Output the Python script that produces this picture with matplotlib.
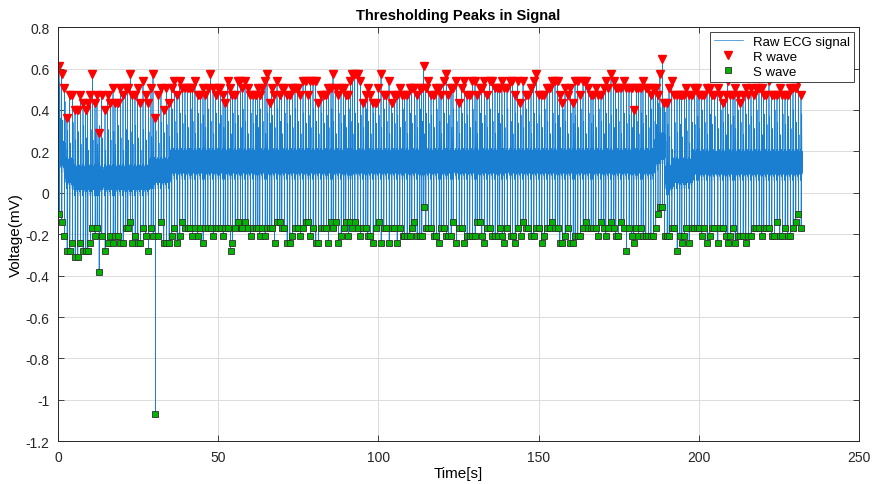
import numpy as np
import matplotlib
matplotlib.use("Agg")
import matplotlib.pyplot as plt

plt.rcParams['font.family'] = ['Liberation Sans', 'DejaVu Sans']
plt.rcParams['axes.unicode_minus'] = False

# R peak times (s)
r_time = [
    0.31, 1.14, 1.97, 2.80, 3.64, 4.47, 5.30, 6.13, 6.96, 7.80,
    8.63, 9.25, 10.08, 10.71, 11.54, 12.16, 12.79, 13.62, 14.66, 15.49,
    16.32, 17.16, 17.78, 18.61, 19.44, 20.28, 21.11, 21.73, 22.56, 23.19,
    24.02, 24.85, 25.68, 26.52, 27.35, 28.18, 29.01, 29.64, 30.35, 31.30,
    32.13, 32.96, 33.80, 34.63, 35.46, 36.29, 37.12, 37.96, 38.79, 39.62,
    40.45, 41.28, 41.91, 42.74, 43.57, 44.40, 45.24,
    45.88, 46.72, 47.55, 48.38, 49.21, 50.04, 50.67, 51.50, 52.12, 52.96,
    53.79, 54.41, 55.24, 56.08, 56.91, 57.53, 58.36, 59.20, 60.03, 60.86,
    61.69, 62.32, 62.94, 63.77, 64.60, 65.23, 66.06, 66.68, 67.52, 68.35,
    69.18, 69.80, 70.64, 71.47, 72.30, 73.13, 73.96, 74.80, 75.63, 76.46,
    77.29, 78.12, 78.75, 79.58, 80.41, 81.24, 82.08, 82.91, 83.74, 84.36,
    85.20, 85.82, 86.65, 87.48, 88.32, 89.15, 89.77, 90.60, 91.23, 91.85,
    92.60, 93.53, 94.36, 95.19, 96.03, 96.65, 97.48, 98.31, 99.15, 99.98,
    100.81, 101.64, 102.47, 103.31, 104.14, 104.97, 105.80, 106.63, 107.47, 108.09,
    108.92, 109.75, 110.38, 111.21, 112.04, 112.87, 113.50, 114.12, 114.75, 115.58,
    116.41, 117.24, 118.07, 118.91, 119.53, 120.36, 121.19, 121.82, 122.65, 123.27,
    124.31, 125.15, 125.98, 126.81, 127.64, 128.47, 129.31, 130.14, 130.76, 131.59,
    132.22, 133.05, 133.88, 134.71, 135.55, 136.38, 137.21, 137.80,
    138.55, 139.30, 140.14, 141.18, 141.80, 142.63, 143.46, 144.30, 145.13, 145.96,
    146.79, 147.62, 148.46, 149.29, 150.12, 150.95, 151.78, 152.62, 153.45, 154.28,
    155.11, 155.94, 156.57, 157.40, 158.23, 159.06, 159.90, 160.73, 161.35, 162.18,
    163.02, 163.85, 164.68, 165.51, 166.34, 166.97, 167.80, 168.63, 169.46, 170.30,
    170.92, 171.75, 172.58, 173.42, 174.04, 174.87, 175.70, 176.54, 177.37, 178.20,
    179.03, 179.66, 180.49, 181.11, 181.94, 182.57, 183.40, 184.23,
    185.00, 185.75, 186.50, 187.20, 187.85, 188.61, 189.24, 190.07, 190.69, 191.53,
    192.36, 193.19, 194.02, 194.65, 195.48, 196.10, 196.93, 197.77, 198.60, 199.43,
    200.05, 200.89, 201.72, 202.55, 203.38, 204.01, 204.84, 205.88, 206.71, 207.54,
    208.37, 209.00, 209.83, 210.66, 211.29, 212.12, 212.95, 213.78, 214.61, 215.45,
    216.28, 217.11, 217.94, 218.77, 219.61, 220.23, 221.06, 221.89, 222.73, 223.56,
    224.39, 225.22, 226.05, 226.89, 227.72, 228.55, 229.38, 230.21, 231.05, 231.88,
]

# R peak amplitudes (mV)
r_amp = [
    0.61, 0.575, 0.505, 0.36, 0.47, 0.47, 0.40, 0.40, 0.47, 0.435,
    0.40, 0.435, 0.47, 0.575, 0.435, 0.47, 0.29, 0.47, 0.40, 0.47,
    0.435, 0.505, 0.435, 0.435, 0.505, 0.47, 0.505, 0.505, 0.575, 0.47,
    0.47, 0.505, 0.435, 0.54, 0.47, 0.435, 0.505, 0.575, 0.36, 0.47,
    0.505, 0.40, 0.505, 0.435, 0.505, 0.54, 0.47, 0.54, 0.505, 0.505,
    0.505, 0.505, 0.505, 0.54, 0.47, 0.47, 0.505,
    0.47, 0.505, 0.575, 0.505, 0.47, 0.505, 0.505, 0.47, 0.435, 0.54,
    0.505, 0.47, 0.47, 0.54, 0.54, 0.505, 0.54, 0.505, 0.47, 0.47,
    0.47, 0.505, 0.47, 0.505, 0.54, 0.575, 0.435, 0.505, 0.47, 0.54,
    0.47, 0.505, 0.505, 0.47, 0.47, 0.505, 0.505, 0.505, 0.47, 0.54,
    0.54, 0.47, 0.54, 0.54, 0.54, 0.435, 0.47, 0.47, 0.47, 0.505,
    0.505, 0.575, 0.505, 0.47, 0.505, 0.505, 0.47, 0.47, 0.54, 0.575,
    0.575, 0.575, 0.54, 0.435, 0.47, 0.505, 0.47, 0.435, 0.435, 0.505,
    0.575, 0.47, 0.47, 0.54, 0.435, 0.47, 0.47, 0.505, 0.47, 0.47,
    0.47, 0.505, 0.505, 0.505, 0.47, 0.505, 0.505, 0.61, 0.505, 0.54,
    0.47, 0.47, 0.505, 0.505, 0.47, 0.54, 0.575, 0.47, 0.505, 0.505,
    0.54, 0.435, 0.505, 0.54, 0.47, 0.47, 0.54, 0.54, 0.47, 0.505,
    0.505, 0.54, 0.47, 0.54, 0.54, 0.505, 0.505, 0.505,
    0.54, 0.505, 0.505, 0.54, 0.54, 0.47, 0.54, 0.435, 0.54, 0.47,
    0.47, 0.505, 0.54, 0.575, 0.47, 0.47, 0.47, 0.505, 0.505, 0.54,
    0.54, 0.54, 0.47, 0.435, 0.505, 0.47, 0.505, 0.435, 0.54, 0.54,
    0.47, 0.54, 0.54, 0.505, 0.47, 0.47, 0.505, 0.47, 0.47, 0.505,
    0.54, 0.505, 0.575, 0.54, 0.505, 0.505, 0.505, 0.54, 0.505, 0.505,
    0.505, 0.40, 0.505, 0.505, 0.505, 0.54, 0.505, 0.505,
    0.47, 0.505, 0.505, 0.47, 0.575, 0.645, 0.435, 0.435, 0.505, 0.54,
    0.47, 0.47, 0.47, 0.47, 0.47, 0.505, 0.47, 0.47, 0.505, 0.505,
    0.47, 0.47, 0.47, 0.505, 0.505, 0.47, 0.47, 0.505, 0.47, 0.435,
    0.47, 0.54, 0.47, 0.47, 0.505, 0.47, 0.435, 0.47, 0.505, 0.47,
    0.505, 0.47, 0.505, 0.505, 0.505, 0.47, 0.47, 0.54, 0.47, 0.47,
    0.47, 0.505, 0.47, 0.47, 0.47, 0.505, 0.505, 0.505, 0.54, 0.47,
]

# S trough amplitudes (mV), one per beat
s_amp = [
    -0.10, -0.14, -0.21, -0.28, -0.28, -0.24, -0.31, -0.31, -0.24, -0.28,
    -0.28, -0.28, -0.24, -0.17, -0.21, -0.17, -0.38, -0.21, -0.28, -0.24,
    -0.21, -0.24, -0.21, -0.21, -0.24, -0.24, -0.17, -0.17, -0.14, -0.24,
    -0.21, -0.24, -0.24, -0.17, -0.21, -0.28, -0.17, -0.21, -1.07, -0.21,
    -0.14, -0.24, -0.24, -0.24, -0.21, -0.17, -0.24, -0.21, -0.14, -0.17,
    -0.17, -0.17, -0.21, -0.17, -0.21, -0.17, -0.24,
    -0.17, -0.17, -0.17, -0.21, -0.17, -0.17, -0.17, -0.21, -0.17, -0.17,
    -0.28, -0.24, -0.17, -0.14, -0.17, -0.17, -0.14, -0.17, -0.21, -0.17,
    -0.17, -0.17, -0.21, -0.17, -0.21, -0.17, -0.17, -0.17, -0.24, -0.14,
    -0.14, -0.17, -0.17, -0.24, -0.24, -0.21, -0.17, -0.17, -0.21, -0.17,
    -0.14, -0.14, -0.21, -0.17, -0.24, -0.24, -0.17, -0.17, -0.17, -0.24,
    -0.14, -0.17, -0.14, -0.24, -0.21, -0.17, -0.14, -0.21, -0.14, -0.17,
    -0.14, -0.17, -0.21, -0.17, -0.17, -0.21, -0.21, -0.24, -0.17, -0.14,
    -0.24, -0.17, -0.17, -0.24, -0.17, -0.17, -0.24, -0.17, -0.21, -0.21,
    -0.21, -0.21, -0.17, -0.14, -0.21, -0.21, -0.21, -0.07, -0.17, -0.17,
    -0.17, -0.21, -0.21, -0.24, -0.17, -0.17, -0.21, -0.21, -0.21, -0.14,
    -0.24, -0.17, -0.17, -0.24, -0.21, -0.21, -0.21, -0.21, -0.14, -0.14,
    -0.21, -0.24, -0.17, -0.17, -0.21, -0.21, -0.21, -0.17,
    -0.21, -0.24, -0.17, -0.21, -0.21, -0.24, -0.17, -0.21, -0.14, -0.17,
    -0.17, -0.21, -0.21, -0.17, -0.17, -0.24, -0.21, -0.17, -0.17, -0.14,
    -0.17, -0.17, -0.24, -0.24, -0.21, -0.17, -0.24, -0.24, -0.21, -0.21,
    -0.21, -0.17, -0.14, -0.17, -0.17, -0.17, -0.17, -0.21, -0.14, -0.17,
    -0.21, -0.17, -0.14, -0.17, -0.21, -0.21, -0.14, -0.17, -0.28, -0.17,
    -0.21, -0.24, -0.17, -0.21, -0.17, -0.21, -0.21, -0.21,
    -0.21, -0.21, -0.17, -0.10, -0.07, -0.07, -0.21, -0.21, -0.21, -0.17,
    -0.17, -0.28, -0.21, -0.24, -0.21, -0.17, -0.24, -0.17, -0.17, -0.17,
    -0.17, -0.21, -0.17, -0.24, -0.21, -0.17, -0.17, -0.24, -0.17, -0.17,
    -0.21, -0.24, -0.21, -0.17, -0.24, -0.21, -0.21, -0.21, -0.24, -0.21,
    -0.21, -0.17, -0.17, -0.17, -0.21, -0.17, -0.17, -0.17, -0.21, -0.21,
    -0.14, -0.21, -0.21, -0.17, -0.21, -0.21, -0.17, -0.14, -0.10, -0.17,
]

# baseline level of the trace, per time segment (segment start times)
base_start = [0.0, 1.0, 2.5, 5.0, 29.0, 35.0, 186.0, 187.5, 189.5, 192.0, 198.0]
base_level = [0.30, 0.18, 0.10, 0.065, 0.10, 0.145, 0.19, 0.22, 0.07, 0.10, 0.14]

# T wave height above baseline, repeating over the beats
t_height = [0.23, 0.17, 0.26, 0.20, 0.14, 0.24, 0.19]

# shape of one beat around the R peak: time offsets (s) and level offsets from baseline
pre_dt = [-0.32, -0.29, -0.26, -0.23, -0.20, -0.17, -0.14, -0.11, -0.08, -0.05]
pre_dv = [-0.05, 0.06, -0.03, 0.05, -0.06, 0.03, 0.07, -0.04, 0.02, -0.08]
s_dt = 0.04
post_dt = [0.09, 0.13, 0.17, 0.22, 0.27, 0.31, 0.35, 0.39, 0.43]
post_dv = [-0.07, 0.04, 0.10, None, 0.09, -0.05, 0.06, -0.04, 0.03]

# build the raw trace from the beats
r_time = np.array(r_time)
r_amp = np.array(r_amp)
s_amp = np.array(s_amp)
s_time = r_time + s_dt
seg = np.searchsorted(base_start, r_time, side='right') - 1
base = np.array(base_level)[seg]

sig_t = []
sig_v = []
for i in range(len(r_time)):
    t0 = r_time[i]
    b = base[i]
    for dt, dv in zip(pre_dt, pre_dv):
        if i == 0 or t0 + dt > sig_t[-1]:
            sig_t.append(t0 + dt)
            sig_v.append(b + dv)
    sig_t.append(t0)
    sig_v.append(r_amp[i])
    sig_t.append(s_time[i])
    sig_v.append(s_amp[i])
    nxt = r_time[i + 1] + pre_dt[0] if i + 1 < len(r_time) else 1e9
    for dt, dv in zip(post_dt, post_dv):
        if dv is None:
            dv = t_height[i % len(t_height)]
        if t0 + dt < nxt:
            sig_t.append(t0 + dt)
            sig_v.append(b + dv)

fig = plt.figure(figsize=(8.74, 4.85), dpi=100)
ax = fig.add_axes([0.0664, 0.088, 0.9165, 0.854])

ax.plot(sig_t, sig_v, color='#1a7fd0', lw=0.5, label='Raw ECG signal')
ax.plot(r_time, r_amp, linestyle='none', marker='v', markersize=5.5,
        markerfacecolor='red', markeredgecolor='red', label='R wave')
ax.plot(s_time, s_amp, linestyle='none', marker='s', markersize=4,
        markerfacecolor='#00b400', markeredgecolor='#303030', markeredgewidth=0.6,
        label='S wave')

ax.set_xlim(0, 250)
ax.set_ylim(-1.2, 0.8)
ax.set_xticks(np.arange(0, 251, 50))
ax.set_yticks(np.arange(-1.2, 0.81, 0.2))
ax.set_yticklabels(['-1.2', '-1', '-0.8', '-0.6', '-0.4', '-0.2', '0',
                    '0.2', '0.4', '0.6', '0.8'])

ax.grid(True, color='#dcdcdc', lw=0.7)
ax.set_axisbelow(True)
for s in ax.spines.values():
    s.set_color('#262626')
    s.set_linewidth(0.7)
ax.tick_params(direction='in', top=True, right=True, length=4, width=0.6,
               labelsize=10, colors='#262626', pad=6)

ax.set_title('Thresholding Peaks in Signal', fontsize=10.5, fontweight='bold', pad=6)
ax.set_xlabel('Time[s]', fontsize=11, labelpad=2)
ax.set_ylabel('Voltage(mV)', fontsize=11, labelpad=2)

leg = ax.legend(loc='upper right', fontsize=9.5, fancybox=False, framealpha=1,
                edgecolor='#262626', borderaxespad=0.35, handlelength=2.2,
                borderpad=0.3, labelspacing=0.2)
leg.get_frame().set_linewidth(0.6)

fig.savefig('out.png', dpi=100)
